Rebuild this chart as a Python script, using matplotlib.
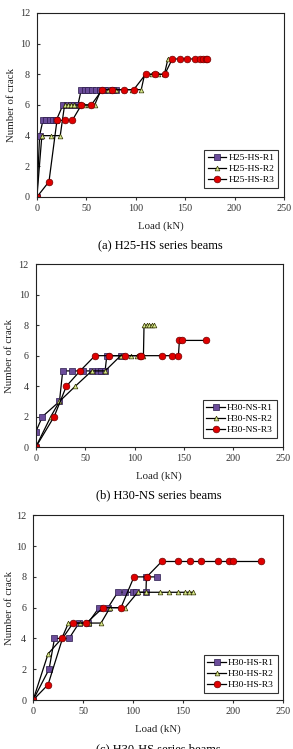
import matplotlib
matplotlib.use("Agg")
import matplotlib.pyplot as plt

plt.rcParams['font.family'] = ['Liberation Serif', 'DejaVu Serif']

# (a) H25-HS series
a_r1_x = [0, 2.7, 6.1, 9.4, 12.8, 16.2, 19.6, 26.3, 30, 34, 38, 41.5, 44.9, 48.5, 52, 56, 60, 64, 68, 72, 77, 80.5]
a_r1_y = [0, 4, 5, 5, 5, 5, 5, 6, 6, 6, 6, 6, 7, 7, 7, 7, 7, 7, 7, 7, 7, 7]
a_r2_x = [0, 5, 14.5, 23.6, 28, 31.4, 34.7, 38, 43, 48, 53, 58.4, 65, 72, 80, 88, 96, 105.6, 109, 116, 123, 129, 132.6]
a_r2_y = [0, 4, 4, 4, 6, 6, 6, 6, 6, 6, 6, 6, 7, 7, 7, 7, 7, 7, 8, 8, 8, 8, 9]
a_r3_x = [0, 12.2, 20.3, 28, 35.8, 45, 55, 66.2, 76.4, 87.8, 98, 110, 120, 129.4, 137, 145, 152.4, 160, 165.5, 168, 171, 172]
a_r3_y = [0, 1, 5, 5, 5, 6, 6, 7, 7, 7, 7, 8, 8, 8, 9, 9, 9, 9, 9, 9, 9, 9]

# (b) H30-NS series
b_r1_x = [0, 0, 6.7, 24, 27.3, 36.4, 47.6, 56.7, 63.4, 65.8, 70.2, 71.9, 86]
b_r1_y = [0, 1, 2, 3, 5, 5, 5, 5, 5, 5, 5, 6, 6]
b_r2_x = [0, 15.2, 24, 40.1, 56.7, 70.2, 86, 96.5, 102, 109, 109.6, 112.3, 114.7, 117.4, 119.8]
b_r2_y = [0, 2, 3, 4, 5, 5, 6, 6, 6, 6, 8, 8, 8, 8, 8]
b_r3_x = [0, 18.6, 31, 44.9, 60, 74.6, 90.8, 105.6, 107, 127.5, 137.7, 144.4, 145.4, 148.1, 172]
b_r3_y = [0, 2, 4, 5, 6, 6, 6, 6, 6, 6, 6, 6, 7, 7, 7]

# (c) H30-HS series
c_r1_x = [0, 16, 21.4, 36, 46, 55, 66, 75, 84.8, 92, 99.8, 103, 113, 113.5, 124]
c_r1_y = [0, 2, 4, 4, 5, 5, 6, 6, 7, 7, 7, 7, 7, 8, 8]
c_r2_x = [0, 15, 28.7, 35.4, 47, 56.4, 68, 77, 92, 104.8, 113.2, 127.2, 136.2, 145, 152.3, 156.6, 160.6]
c_r2_y = [0, 3, 4, 5, 5, 5, 5, 6, 6, 7, 7, 7, 7, 7, 7, 7, 7]
c_r3_x = [0, 15, 29.4, 40, 53.4, 70, 88, 101, 113.8, 128.8, 145.2, 156.9, 168, 185, 196, 200, 228]
c_r3_y = [0, 1, 4, 5, 5, 6, 6, 8, 8, 9, 9, 9, 9, 9, 9, 9, 9]

panels = [
    ([0.126, 0.737, 0.843, 0.2457], "H25-HS", (a_r1_x, a_r1_y), (a_r2_x, a_r2_y), (a_r3_x, a_r3_y),
     "(a) H25-HS series beams", 0.976, 0.05, 3),
    ([0.122, 0.403, 0.843, 0.2443], "H30-NS", (b_r1_x, b_r1_y), (b_r2_x, b_r2_y), (b_r3_x, b_r3_y),
     "(b) H30-NS series beams", 0.976, 0.05, 3),
    ([0.113, 0.0654, 0.852, 0.2466], "H30-HS", (c_r1_x, c_r1_y), (c_r2_x, c_r2_y), (c_r3_x, c_r3_y),
     "(c) H30-HS series beams", 0.98, 0.04, 1.5),
]

fig = plt.figure(figsize=(2.93, 7.49), dpi=100)

for rect, name, r1, r2, r3, cap, lx, ly, ypad in panels:
    ax = fig.add_axes(rect)
    ax.plot(r1[0], r1[1], color='black', lw=0.9, marker='s', ms=4.0,
            mfc='#6b4c9a', mec='#2a1a4a', mew=0.5, label=name + "-R1")
    ax.plot(r2[0], r2[1], color='black', lw=0.9, marker='^', ms=3.4,
            mfc='#d6e88a', mec='#333300', mew=0.5, label=name + "-R2")
    ax.plot(r3[0], r3[1], color='black', lw=0.9, marker='o', ms=4.8,
            mfc='#e00000', mec='#700000', mew=0.5, label=name + "-R3")
    ax.set_xlim(0, 250)
    ax.set_ylim(0, 12)
    ax.set_xticks([0, 50, 100, 150, 200, 250])
    ax.set_yticks([0, 2, 4, 6, 8, 10, 12])
    ax.tick_params(axis='y', direction='in', length=2.5, labelsize=7.3, pad=5, colors='#333333')
    ax.tick_params(axis='x', direction='out', length=2, labelsize=7.3, pad=3, colors='#333333')
    for s in ax.spines.values():
        s.set_linewidth(0.8)
        s.set_color('#222222')
    ax.set_xlabel("Load (kN)", fontsize=7.8, labelpad=6, color='#222222')
    ax.set_ylabel("Number of crack", fontsize=7.8, labelpad=ypad, color='#222222')
    leg = ax.legend(loc='lower right', bbox_to_anchor=(lx, ly), fontsize=6.8, frameon=True,
                    fancybox=False, edgecolor='black', handlelength=2.0, handletextpad=0.2,
                    labelspacing=0.25, borderpad=0.4, borderaxespad=0)
    leg.get_frame().set_linewidth(0.8)
    ax.text(0.5, -0.265, cap, transform=ax.transAxes, ha='center', va='center', fontsize=9)

fig.savefig("out.png", dpi=100)
